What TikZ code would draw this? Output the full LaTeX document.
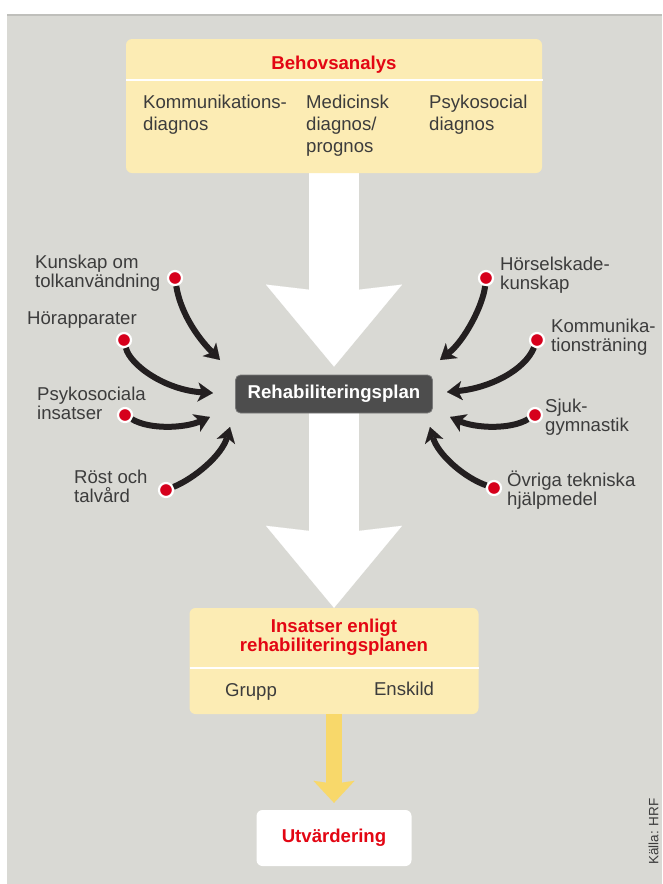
\documentclass[tikz,border=0pt]{standalone}
\usepackage{fontspec}
\setmainfont{Liberation Sans}
\usetikzlibrary{arrows.meta}
\pgfdeclarelayer{bg}
\pgfsetlayers{bg,main}
\definecolor{panel}{RGB}{217,217,212}
\definecolor{pale}{RGB}{252,236,180}
\definecolor{hrfred}{RGB}{227,6,19}
\definecolor{ink}{RGB}{60,60,60}
\definecolor{slate}{RGB}{77,77,77}
\definecolor{gold}{RGB}{248,216,106}
\definecolor{pin}{RGB}{214,0,28}
\definecolor{shaft}{RGB}{35,31,32}
\tikzset{
    every node/.style={inner sep=0mm, text=ink, font=\fontsize{18.6}{22}\selectfont}
}
\tikzset{
    panelbox/.style={rounded corners=6pt, fill=pale},
    headtext/.style={text=hrfred, font=\fontsize{18.6}{19}\selectfont\bfseries},
    coltext/.style={anchor=north west, align=left},
    planbox/.style={rounded corners=5pt, fill=slate, draw=slate!75!white, line width=.8pt,
        minimum width=197pt, minimum height=38pt, text=white, font=\fontsize{18.6}{19}\selectfont\bfseries},
    endbox/.style={rounded corners=6pt, fill=white, minimum width=155pt, minimum height=56pt,
        text=hrfred, font=\fontsize{18.6}{19}\selectfont\bfseries},
    dot/.style={circle, fill=pin, draw=white, line width=2.2pt, minimum size=14pt},
    lbl/.style={anchor=north west, align=left, font=\fontsize{18.6}{19}\selectfont},
    feed/.style={draw=shaft, line width=6pt, -{Stealth[length=15pt, width=19pt, inset=4pt, line width=.01pt]}},
    bigarrow/.style={draw=white, line width=50pt, -{Stealth[length=82pt, width=136pt, inset=8pt, line width=.01pt]}},
    goldarrow/.style={draw=gold, line width=16pt, -{Stealth[length=22pt, width=41pt, inset=3pt, line width=.01pt]}}
}
\begin{document}
\begin{tikzpicture}[x=1pt, y=-1pt]
        \useasboundingbox (0, 0) rectangle (662, 884);
        \node (behov) [panelbox, minimum width=416pt, minimum height=134pt] at (334, 106) {};
        \node (behovt) [headtext] at (334, 64.5) {Behovsanalys};
        \node (c0) [coltext] at (143, 95) {Kommunikations-\\diagnos};
        \node (c1) [coltext] at (306, 95) {Medicinsk\\diagnos/\\prognos};
        \node (c2) [coltext] at (429, 95) {Psykosocial\\diagnos};
        \node (rehab) [planbox] at (334, 394) {Rehabiliteringsplan};
        \node (insatser) [panelbox, minimum width=289pt, minimum height=106pt] at (334, 661) {};
        \node (insatsert) [headtext, align=center] at (334, 637.5) {Insatser enligt\\rehabiliteringsplanen};
        \node (grupp) at (251, 691.5) {Grupp};
        \node (enskild) at (404, 689) {Enskild};
        \node (utv) [endbox] at (334, 838) {Utvärdering};
        \node (kalla) [rotate=90, font=\fontsize{13.5}{14}\selectfont] at (653.5, 831.5) {Källa: HRF};
        \draw [white, line width=2pt] (126, 80) -- (543, 80);
        \draw [white, line width=2pt] (189.5, 668) -- (478.5, 668);
        \node (d0) [dot] at (175, 278) {};
        \node (d1) [dot] at (124, 340) {};
        \node (d2) [dot] at (125, 415) {};
        \node (d3) [dot] at (166, 490) {};
        \node (d4) [dot] at (486, 278) {};
        \node (d5) [dot] at (537, 340) {};
        \node (d6) [dot] at (535, 415) {};
        \node (d7) [dot] at (494, 488) {};
        \node (l0) [lbl] at (35, 255) {Kunskap om\\tolkanvändning};
        \node (l1) [lbl] at (27, 311) {Hörapparater};
        \node (l2) [lbl] at (37, 387) {Psykosociala\\insatser};
        \node (l3) [lbl] at (74, 470) {Röst och\\talvård};
        \node (l4) [lbl] at (500, 257) {Hörselskade-\\kunskap};
        \node (l5) [lbl] at (551, 319) {Kommunika-\\tionsträning};
        \node (l6) [lbl] at (545, 399) {Sjuk-\\gymnastik};
        \node (l7) [lbl, font=\fontsize{18.6}{17}\selectfont] at (507, 471) {Övriga tekniska\\hjälpmedel};
        \coordinate (t0) at (220, 360);
        \coordinate (t1) at (213, 393);
        \coordinate (t2) at (210, 417);
        \coordinate (t3) at (230, 427);
        \coordinate (t4) at (440, 360);
        \coordinate (t5) at (447, 392);
        \coordinate (t6) at (450, 417);
        \coordinate (t7) at (430, 427);
        \draw [feed] (d0) .. controls (180, 310) and (195, 335) .. (t0);
        \draw [feed] (d1) .. controls (130, 365) and (165, 390) .. (t1);
        \draw [feed] (d2) .. controls (150, 430) and (185, 428) .. (t2);
        \draw [feed] (d3) .. controls (195, 478) and (222, 455) .. (t3);
        \draw [feed] (d4) .. controls (483, 305) and (465, 340) .. (t4);
        \draw [feed] (d5) .. controls (525, 370) and (490, 388) .. (t5);
        \draw [feed] (d6) .. controls (510, 430) and (475, 428) .. (t6);
        \draw [feed] (d7) .. controls (465, 478) and (438, 455) .. (t7);
        \draw [goldarrow, shorten >=7pt] (insatser.south) -- (utv.north);
        \begin{pgfonlayer}{bg}
                \fill [white] (0, 0) rectangle (662, 884);
                \fill [panel] (7, 14) rectangle (662, 884);
                \draw [panel!88!black, line width=2pt] (7, 15) -- (662, 15);
                \draw [bigarrow, shorten >=8pt] (behov.south) -- (rehab.north);
                \draw [bigarrow] (rehab.south) -- (insatser.north);
        \end{pgfonlayer}
\end{tikzpicture}
\end{document}
